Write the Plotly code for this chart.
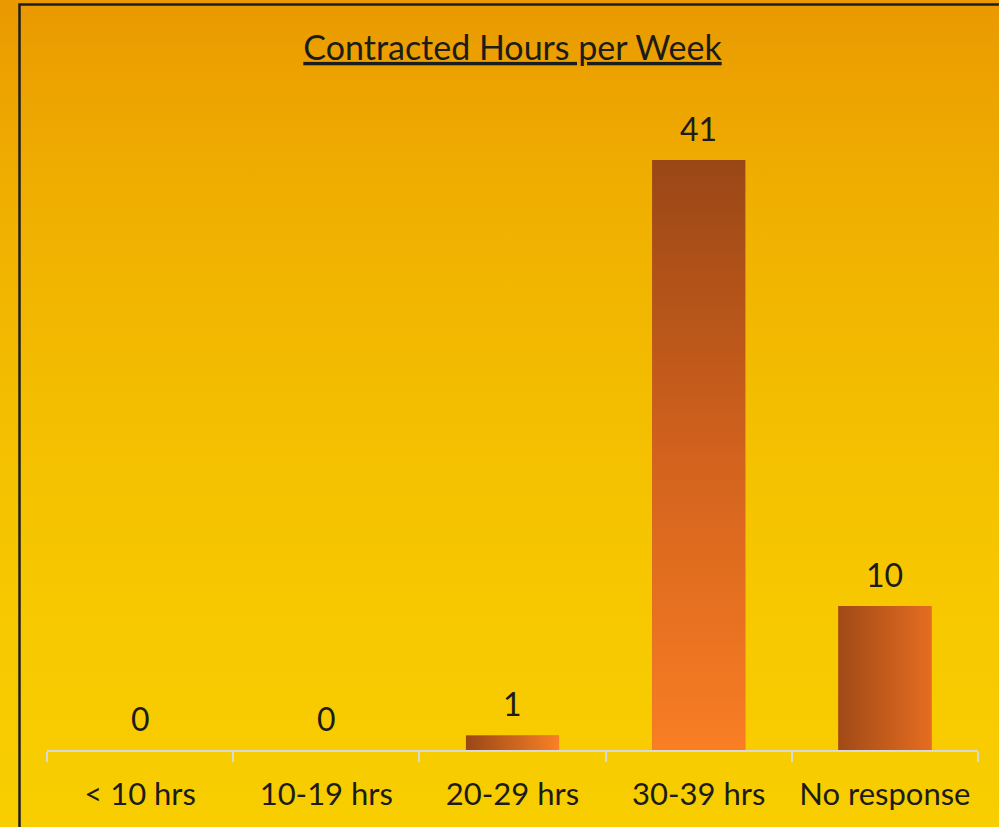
import plotly.graph_objects as go

# ---- data ----
categories = ["< 10 hrs", "10-19 hrs", "20-29 hrs", "30-39 hrs", "No response"]
counts = [0, 0, 1, 41, 10]
chart_title = "Contracted Hours per Week"

# ---- styles ----
FONT = "Lato"
TEXT_COLOR = "#1c1c1c"
bar_solid = ["#C8601E", "#C8601E", "#CC641F", "#C8601E", "#C25A1C"]
bar_gradient = [
    None,
    None,
    ("horizontal", [[0, "#9A4716"], [1, "#F98025"]]),
    ("vertical", [[0, "#F97E24"], [0.5, "#D2621D"], [1, "#9A4716"]]),
    ("horizontal", [[0, "#A04A17"], [1, "#E56C21"]]),
]
bg_scale = [
    [0.0, "#F8CE00"],
    [0.27, "#F7C800"],
    [0.52, "#F3BD00"],
    [0.76, "#F0AF00"],
    [0.94, "#EB9F00"],
    [1.0, "#EA9900"],
]

W, H = 999, 827
plot_left, plot_right, plot_top, plot_bottom = 47, 978, 100, 750
px_per_unit = 590 / 41.0
y_max = (plot_bottom - plot_top) / px_per_unit
bar_w = 0.5

positions = list(range(len(categories)))

fig = go.Figure()

# background (full-paper gradient) on its own hidden axes, drawn first
fig.add_trace(go.Scatter(
    x=[0, 1, 1, 0, 0], y=[0, 0, 1, 1, 0],
    mode="lines", line=dict(width=0), fill="toself",
    fillgradient=dict(type="vertical", colorscale=bg_scale),
    hoverinfo="skip", showlegend=False, xaxis="x", yaxis="y",
))

# bars
fig.add_trace(go.Bar(
    x=positions, y=counts, width=bar_w,
    marker=dict(color=bar_solid, line=dict(width=0)),
    hovertext=categories, hoverinfo="text+y",
    showlegend=False, xaxis="x2", yaxis="y2",
))

# gradient skins for the bars, built from the same values
for i, (v, g) in enumerate(zip(counts, bar_gradient)):
    if g is None or v <= 0:
        continue
    orient, cs = g
    fig.add_trace(go.Scatter(
        x=[i - bar_w / 2, i + bar_w / 2, i + bar_w / 2, i - bar_w / 2, i - bar_w / 2],
        y=[0, 0, v, v, 0],
        mode="lines", line=dict(width=0), fill="toself",
        fillgradient=dict(type=orient, colorscale=cs),
        hoverinfo="skip", showlegend=False, xaxis="x2", yaxis="y2",
    ))

# value labels
for i, v in enumerate(counts):
    fig.add_annotation(
        x=i, y=v, xref="x2", yref="y2", text=str(v), showarrow=False,
        yanchor="middle", yshift=32,
        font=dict(family=FONT, size=32, color=TEXT_COLOR),
    )

# outer dark frame
fig.add_shape(
    type="rect", xref="paper", yref="paper",
    x0=19.5 / W, x1=1.02, y0=-0.02, y1=1 - 4.5 / H,
    line=dict(color="#1E1E1E", width=2.5), fillcolor="rgba(0,0,0,0)",
    layer="above",
)

fig.update_layout(
    width=W, height=H,
    margin=dict(l=0, r=0, t=0, b=0),
    paper_bgcolor="#F3BE00",
    plot_bgcolor="rgba(0,0,0,0)",
    showlegend=False,
    title=dict(
        text="<u>" + chart_title + "</u>",
        x=((plot_left + plot_right) / 2) / W, xanchor="center",
        y=1 - 48 / H, yanchor="middle", yref="paper",
        font=dict(family=FONT, size=34, color=TEXT_COLOR),
    ),
    xaxis=dict(domain=[0, 1], range=[0, 1], visible=False, fixedrange=True),
    yaxis=dict(domain=[0, 1], range=[0, 1], visible=False, fixedrange=True),
    xaxis2=dict(
        domain=[plot_left / W, plot_right / W], anchor="y2",
        range=[-0.5, len(categories) - 0.5],
        tickmode="array", tickvals=positions, ticktext=categories,
        ticks="", showgrid=False, zeroline=False,
        showline=True, linecolor="#D9D9D9", linewidth=2,
        minor=dict(tick0=0.5, dtick=1, ticks="outside", ticklen=10,
                   tickcolor="#D9D9D9", tickwidth=2, showgrid=False),
        ticklabelstandoff=16,
        tickfont=dict(family=FONT, size=31, color=TEXT_COLOR),
        fixedrange=True,
    ),
    yaxis2=dict(
        domain=[1 - plot_bottom / H, 1 - plot_top / H], anchor="x2",
        range=[0, y_max], visible=False, fixedrange=True,
    ),
)

fig.write_html(
    "out.html",
    config={"displayModeBar": False},
    post_script="document.body.style.margin='0';document.body.style.overflow='hidden';",
)
